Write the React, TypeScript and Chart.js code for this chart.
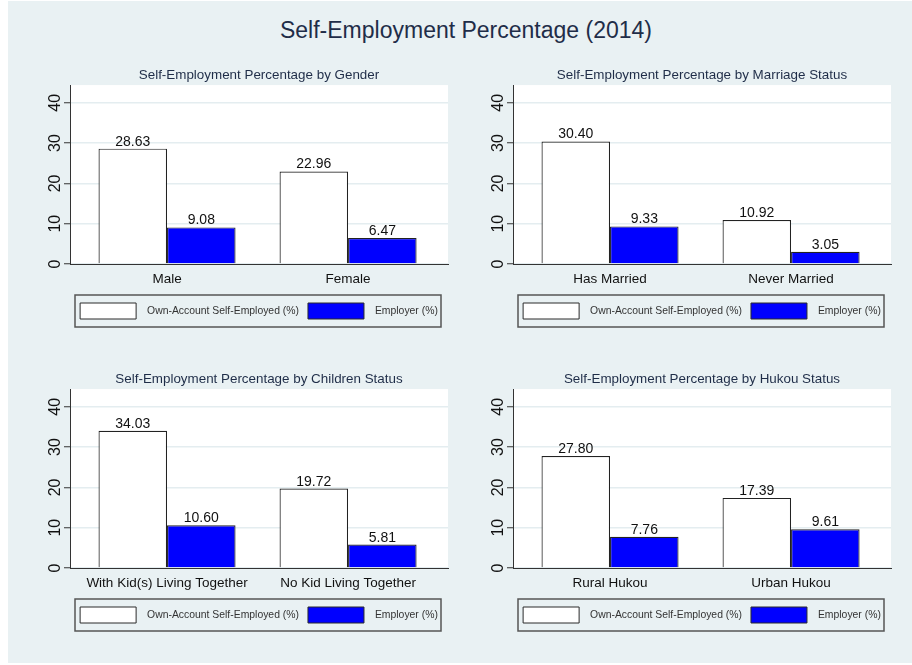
import React, { useEffect, useRef } from "react";
import { Chart, registerables } from "chart.js";

Chart.register(...registerables);

const FONT = "'Liberation Sans', Arial, Helvetica, sans-serif";
const TITLE_COLOR = "#1f2d48";
const BG_COLOR = "#e9f1f3";

const mainTitle = "Self-Employment Percentage (2014)";
const seriesLabels = ["Own-Account Self-Employed (%)", "Employer (%)"];
const seriesColors = ["#ffffff", "#0000ff"];
const yTickValues = [0, 10, 20, 30, 40];
const yMax = 44.4;

const genderTitle = "Self-Employment Percentage by Gender";
const genderCategories = ["Male", "Female"];
const genderOwnAccount = [28.63, 22.96];
const genderEmployer = [9.08, 6.47];

const marriageTitle = "Self-Employment Percentage by Marriage Status";
const marriageCategories = ["Has Married", "Never Married"];
const marriageOwnAccount = [30.4, 10.92];
const marriageEmployer = [9.33, 3.05];

const childrenTitle = "Self-Employment Percentage by Children Status";
const childrenCategories = ["With Kid(s) Living Together", "No Kid Living Together"];
const childrenOwnAccount = [34.03, 19.72];
const childrenEmployer = [10.6, 5.81];

const hukouTitle = "Self-Employment Percentage by Hukou Status";
const hukouCategories = ["Rural Hukou", "Urban Hukou"];
const hukouOwnAccount = [27.8, 17.39];
const hukouEmployer = [7.76, 9.61];

const CANVAS_W = 430;
const CANVAS_H = 278;
// category axis outer gaps (in category units), like Stata's bar gaps
const X_START = -0.536;
const X_RANGE = 2.088;

const plotBackground = {
  id: "plotBackground",
  beforeDraw(chart: any) {
    const { ctx, chartArea } = chart;
    ctx.save();
    ctx.fillStyle = "#ffffff";
    ctx.fillRect(chartArea.left, chartArea.top, chartArea.right - chartArea.left, chartArea.bottom - chartArea.top);
    ctx.restore();
  },
};

const valueLabels = {
  id: "valueLabels",
  afterDatasetsDraw(chart: any) {
    const ctx = chart.ctx;
    ctx.save();
    ctx.font = `14px ${FONT}`;
    ctx.fillStyle = "#111111";
    ctx.textAlign = "center";
    ctx.textBaseline = "alphabetic";
    chart.data.datasets.forEach((ds: any, i: number) => {
      chart.getDatasetMeta(i).data.forEach((el: any, j: number) => {
        const v = ds.data[j] as number;
        ctx.fillText(v.toFixed(2), el.x, el.y - 3);
      });
    });
    ctx.restore();
  },
};

const legendFrame = {
  id: "legendFrame",
  afterDraw(chart: any) {
    const legend = chart.legend;
    if (!legend || !legend.legendHitBoxes || !legend.legendHitBoxes.length) return;
    const hb = legend.legendHitBoxes[0];
    const { ctx, chartArea } = chart;
    const x1 = chartArea.left + 5;
    const x2 = chartArea.right - 7;
    const y1 = hb.top - 8;
    const y2 = hb.top + hb.height + 8;
    ctx.save();
    ctx.strokeStyle = "#555555";
    ctx.lineWidth = 1.5;
    ctx.strokeRect(x1, y1, x2 - x1, y2 - y1);
    ctx.restore();
  },
};

type PanelProps = {
  left: number;
  top: number;
  title: string;
  categories: string[];
  ownAccount: number[];
  employer: number[];
};

function Panel({ left, top, title, categories, ownAccount, employer }: PanelProps) {
  const ref = useRef<HTMLCanvasElement>(null);
  useEffect(() => {
    const chart = new Chart(ref.current as HTMLCanvasElement, {
      type: "bar",
      data: {
        labels: categories,
        datasets: [
          {
            label: seriesLabels[0],
            data: ownAccount,
            backgroundColor: seriesColors[0],
            borderColor: "#222222",
            borderWidth: 1.2,
            categoryPercentage: 0.757,
            barPercentage: 1,
          },
          {
            label: seriesLabels[1],
            data: employer,
            backgroundColor: seriesColors[1],
            borderColor: "#222222",
            borderWidth: 1.2,
            categoryPercentage: 0.757,
            barPercentage: 1,
          },
        ],
      },
      options: {
        responsive: false,
        animation: false,
        devicePixelRatio: 1,
        layout: { padding: { left: 0, right: 12, top: 0, bottom: 11 } },
        plugins: {
          title: {
            display: true,
            text: title,
            fullSize: false,
            color: TITLE_COLOR,
            font: { family: FONT, size: 13.4, weight: "normal" },
            padding: { top: 5, bottom: 2 },
          },
          legend: {
            position: "bottom",
            fullSize: false,
            labels: {
              boxWidth: 56,
              boxHeight: 16,
              padding: 9,
              color: "#333333",
              font: { family: FONT, size: 10.4 },
              generateLabels: (c: any) =>
                c.data.datasets.map((ds: any, i: number) => ({
                  text: "  " + ds.label,
                  fillStyle: ds.backgroundColor,
                  strokeStyle: "#2b2b2b",
                  lineWidth: 1,
                  hidden: false,
                  datasetIndex: i,
                  fontColor: "#333333",
                })),
            },
          },
          tooltip: { enabled: false },
        },
        scales: {
          x: {
            grid: { display: true, drawOnChartArea: false, drawTicks: false },
            border: { display: true, color: "#333333", width: 1 },
            ticks: {
              color: "#111111",
              font: { family: FONT, size: 13.5 },
              padding: 7,
              maxRotation: 0,
              autoSkip: false,
            },
            afterBuildTicks: (s: any) => {
              s._startValue = X_START;
              s._valueRange = X_RANGE;
            },
            afterFit: (s: any) => {
              s.height = 30;
            },
          },
          y: {
            min: 0,
            max: yMax,
            afterBuildTicks: (s: any) => {
              s.ticks = yTickValues.map((v) => ({ value: v }));
            },
            grid: {
              color: "#e4edf0",
              lineWidth: 1.5,
              tickColor: "#333333",
              tickLength: 6,
              tickWidth: 1,
            },
            border: { display: true, color: "#333333", width: 1 },
            ticks: {
              color: "#111111",
              font: { family: FONT, size: 16 },
              padding: 0,
              minRotation: 90,
              maxRotation: 90,
              crossAlign: "center",
            },
            afterFit: (s: any) => {
              s.width = 40;
            },
          },
        },
      } as any,
      plugins: [plotBackground, valueLabels, legendFrame],
    });
    return () => chart.destroy();
  }, []);
  return (
    <canvas
      ref={ref}
      width={CANVAS_W}
      height={CANVAS_H}
      style={{ position: "absolute", left, top, width: CANVAS_W, height: CANVAS_H }}
    />
  );
}

export default function App() {
  return (
    <div style={{ position: "absolute", left: 0, top: 0, width: 912, height: 665, background: "#ffffff", overflow: "hidden" }}>
      <div style={{ position: "absolute", left: 8, top: 1, width: 904, height: 662, background: BG_COLOR }} />
      <div
        style={{
          position: "absolute",
          left: 266,
          top: 16,
          width: 400,
          textAlign: "center",
          fontFamily: FONT,
          fontSize: 23,
          lineHeight: "28px",
          color: TITLE_COLOR,
          whiteSpace: "nowrap",
        }}
      >
        {mainTitle}
      </div>
      <Panel left={30} top={62} title={genderTitle} categories={genderCategories} ownAccount={genderOwnAccount} employer={genderEmployer} />
      <Panel left={473} top={62} title={marriageTitle} categories={marriageCategories} ownAccount={marriageOwnAccount} employer={marriageEmployer} />
      <Panel left={30} top={366} title={childrenTitle} categories={childrenCategories} ownAccount={childrenOwnAccount} employer={childrenEmployer} />
      <Panel left={473} top={366} title={hukouTitle} categories={hukouCategories} ownAccount={hukouOwnAccount} employer={hukouEmployer} />
    </div>
  );
}
